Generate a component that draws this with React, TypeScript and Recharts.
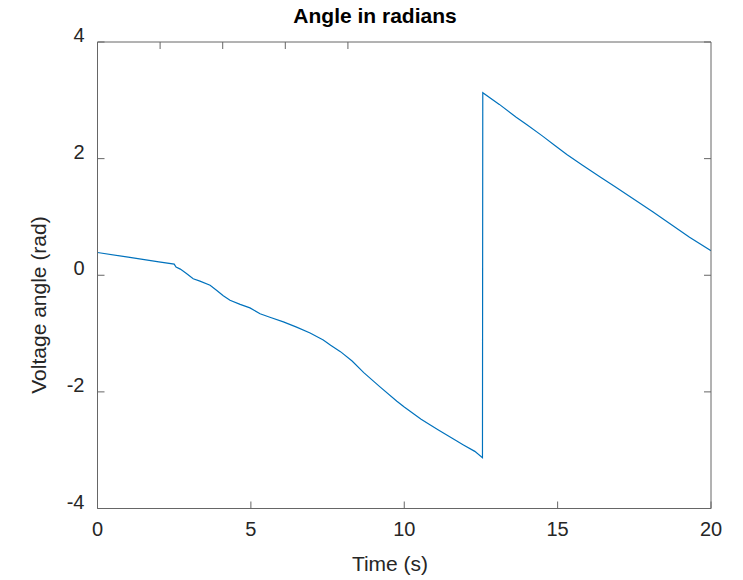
import React from 'react';
import { LineChart, Line, XAxis, YAxis } from 'recharts';

// values
const timeS = [
  0, 1, 2, 2.5, 2.56, 2.7, 2.9, 3.12, 3.34, 3.67, 3.89, 4.1, 4.32, 4.65, 4.97, 5.3,
  5.62, 6.06, 6.49, 6.93, 7.36, 7.6, 7.92, 8.3, 8.68, 9.2, 9.76, 10.0, 10.55, 10.85,
  11.1, 11.7, 11.93, 12.3, 12.55, 12.56, 13.1, 13.65, 14.0, 14.5, 14.9, 15.3, 15.8,
  16.4, 16.9, 17.5, 18.1, 18.7, 19.3, 20,
];
const angleRad = [
  0.39, 0.31, 0.23, 0.19, 0.14, 0.105, 0.03, -0.06, -0.1, -0.17, -0.26, -0.35,
  -0.43, -0.5, -0.56, -0.66, -0.72, -0.8, -0.89, -0.99, -1.11, -1.2, -1.31, -1.47,
  -1.67, -1.91, -2.16, -2.26, -2.47, -2.57, -2.65, -2.84, -2.91, -3.02, -3.13,
  3.13, 2.93, 2.71, 2.58, 2.39, 2.23, 2.07, 1.89, 1.68, 1.51, 1.3, 1.09, 0.87, 0.65,
  0.42,
];
const xTicks = [0, 5, 10, 15, 20];
const yTicks = [-4, -2, 0, 2, 4];

const data = timeS.map((t, i) => ({ t, angle: angleRad[i] }));

const FONT = '"Liberation Sans", Arial, Helvetica, sans-serif';
const axisColor = '#666666';
const textColor = '#262626';

const XTick = (props: any) => (
  <text x={props.x} y={props.y} dy="0.71em" textAnchor="middle" fontSize={20} fill={textColor} fontFamily={FONT}>
    {props.payload.value}
  </text>
);

const YTick = (props: any) => (
  <text x={props.x} y={props.y - 7} dy="0.355em" textAnchor="end" fontSize={20} fill={textColor} fontFamily={FONT}>
    {props.payload.value}
  </text>
);

const NoLabel = () => <g />;

export default function App() {
  return (
    <div style={{ position: 'absolute', left: 0, top: 0, width: 743, height: 580, background: '#fff', fontFamily: FONT }}>
      <div style={{ position: 'absolute', left: 0, width: 750, top: 4, textAlign: 'center', fontSize: 21, lineHeight: '24px', fontWeight: 'bold', color: '#000' }}>
        Angle in radians
      </div>
      <div style={{ position: 'absolute', left: 90, width: 600, top: 552, textAlign: 'center', fontSize: 21, lineHeight: '24px', color: textColor }}>
        Time (s)
      </div>
      <div style={{ position: 'absolute', left: 39 - 150, width: 300, top: 305 - 12, height: 24, textAlign: 'center', fontSize: 21, lineHeight: '24px', color: textColor, transform: 'rotate(-90deg)', transformOrigin: 'center' }}>
        Voltage angle (rad)
      </div>
      <LineChart width={743} height={580} data={data} margin={{ top: 32, right: 22, bottom: 41.5, left: 37.5 }}>
        <XAxis xAxisId="bottom" dataKey="t" type="number" domain={[0, 20]} ticks={xTicks} allowDataOverflow
          height={30} tickSize={-7} tickMargin={20} stroke={axisColor} tick={XTick} />
        <XAxis xAxisId="top" orientation="top" type="number" domain={[0, 20]} ticks={xTicks} allowDataOverflow
          height={10} tickSize={-7} stroke={axisColor} tick={NoLabel} />
        <YAxis yAxisId="left" type="number" domain={[-4, 4]} ticks={yTicks} allowDataOverflow
          width={60} tickSize={-7} tickMargin={20} stroke={axisColor} tick={YTick} />
        <YAxis yAxisId="right" orientation="right" type="number" domain={[-4, 4]} ticks={yTicks} allowDataOverflow
          width={10} tickSize={-7} stroke={axisColor} tick={NoLabel} />
        <Line xAxisId="bottom" yAxisId="left" type="linear" dataKey="angle" stroke="#0072BD" strokeWidth={1.2}
          dot={false} activeDot={false} isAnimationActive={false} />
      </LineChart>
    </div>
  );
}
